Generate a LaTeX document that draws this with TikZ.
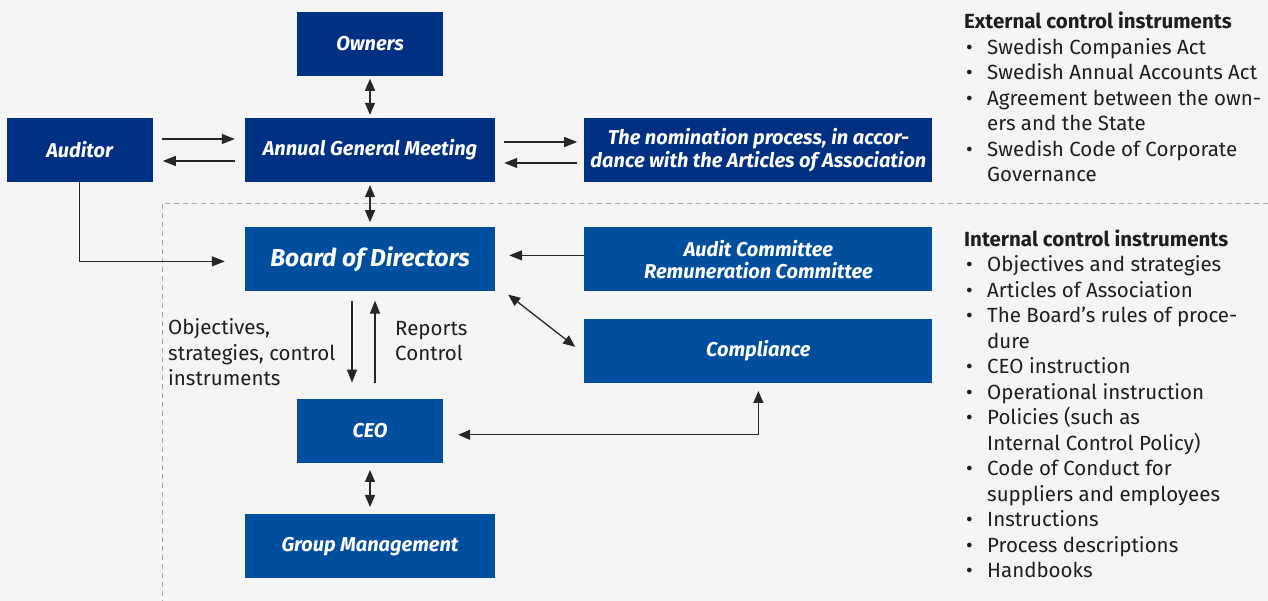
\documentclass[tikz,border=0pt]{standalone}
\usepackage{fontspec}
\setmainfont{Fira Sans}
\usetikzlibrary{arrows.meta,positioning,calc}
\definecolor{extblue}{HTML}{003082}
\definecolor{intblue}{HTML}{004F9F}
\definecolor{bggray}{HTML}{F5F5F5}
\definecolor{dashgray}{HTML}{A8A8A8}
\definecolor{txtgray}{HTML}{1E1E1E}

\newcommand{\bitem}[1]{\hspace*{2pt}\makebox[21pt][l]{\textbullet}#1}
\newcommand{\bcont}[1]{\hspace*{23pt}#1}

\begin{document}
\begin{tikzpicture}[
    x=1pt, y=1pt,
    box/.style={rectangle, inner sep=0pt, text=white, align=center, font=\fontsize{20}{22.5}\selectfont\bfseries\itshape},
    extbox/.style={box, fill=extblue},
    intbox/.style={box, fill=intblue},
    small/.style={minimum width=146pt, minimum height=64pt},
    mid/.style={minimum width=250pt, minimum height=64pt},
    wide/.style={minimum width=348pt, minimum height=64pt},
    tip/.style={Triangle[length=13pt,width=10pt]},
    arrow/.style={-{Triangle[length=13pt,width=10pt]}, line width=1.3pt, black!85},
    twoway/.style={{Triangle[length=12pt,width=10pt]}-{Triangle[length=12pt,width=10pt]}, line width=1.3pt, black!85},
    lbl/.style={inner sep=0pt, align=left, text=txtgray, font=\fontsize{20.5}{25.5}\selectfont},
    dashline/.style={dashgray, line width=0.9pt, dash pattern=on 5pt off 4pt}
]
\fill[bggray] (0,0) rectangle (1268,601);
\useasboundingbox (0,0) rectangle (1268,601);

% internal area
\draw[dashline] (1268,398) -- (162,398) -- (162,0);

% governing bodies
\node[extbox, mid] (agm) at (370,451) {Annual General Meeting};
\node[extbox, small, above=42pt of agm] (owners) {Owners};
\node[extbox, small, left=92pt of agm] (auditor) {Auditor};
\node[extbox, wide, right=89pt of agm] (nomination) {The nomination process, in accor-\\dance with the Articles of Association};
\node[intbox, mid, below=45pt of agm, font=\fontsize{24.5}{26}\selectfont\bfseries\itshape] (board) {Board of Directors};
\node[intbox, wide, right=89pt of board] (committees) {Audit Committee\\Remuneration Committee};
\node[intbox, wide, below=27pt of committees] (compliance) {Compliance};
\node[intbox, small, below=107pt of board] (ceo) {CEO};
\node[intbox, mid, below=51pt of ceo] (groupmgmt) {Group Management};

% connectors
\draw[twoway] ([yshift=-3pt]owners.south) -- ([yshift=3pt]agm.north);
\draw[twoway] ([yshift=-3pt]agm.south) -- ([yshift=5pt]board.north);
\draw[arrow] ([shift={(9pt,11pt)}]auditor.east) -- ([shift={(-10pt,11pt)}]agm.west);
\draw[arrow] ([shift={(-10pt,-11pt)}]agm.west) -- ([shift={(10pt,-11pt)}]auditor.east);
\draw[arrow] ([shift={(9pt,8pt)}]agm.east) -- ([shift={(-7pt,8pt)}]nomination.west);
\draw[arrow] ([shift={(-7pt,-13pt)}]nomination.west) -- ([shift={(9pt,-13pt)}]agm.east);
\draw[arrow] (auditor.south) |- ([shift={(-20pt,-2pt)}]board.west);
\draw[arrow] ([yshift=4pt]committees.west) -- ([shift={(14pt,4pt)}]board.east);
\draw[twoway] ([shift={(13pt,-3pt)}]board.south east) -- ([shift={(-9pt,4pt)}]compliance.west);
\draw[arrow] ([shift={(-18pt,-9pt)}]board.south) -- ([shift={(-18pt,16pt)}]ceo.north);
\draw[arrow] ([shift={(5pt,16pt)}]ceo.north) -- ([shift={(5pt,-9pt)}]board.south);
\draw[twoway] ([shift={(15pt,-4pt)}]ceo.east) -| ([yshift=-8pt]compliance.south);
\draw[twoway] ([yshift=-7pt]ceo.south) -- ([yshift=7pt]groupmgmt.north);

% flow labels
\node[lbl, anchor=base west] (objectives) at (168,215) {Objectives,\\strategies, control\\instruments};
\node[lbl, anchor=base west] (reports) at (395,240) {Reports\\Control};

% control instruments
\node[lbl, anchor=base west] (external) at (964,419) {\bfseries External control instruments\\
  \bitem{Swedish Companies Act}\\
  \bitem{Swedish Annual Accounts Act}\\
  \bitem{Agreement between the own-}\\
  \bcont{ers and the State}\\
  \bitem{Swedish Code of Corporate}\\
  \bcont{Governance}};
\node[lbl, anchor=base west] (internal) at (964,23) {\bfseries Internal control instruments\\
  \bitem{Objectives and strategies}\\
  \bitem{Articles of Association}\\
  \bitem{The Board’s rules of proce-}\\
  \bcont{dure}\\
  \bitem{CEO instruction}\\
  \bitem{Operational instruction}\\
  \bitem{Policies (such as}\\
  \bcont{Internal Control Policy)}\\
  \bitem{Code of Conduct for}\\
  \bcont{suppliers and employees}\\
  \bitem{Instructions}\\
  \bitem{Process descriptions}\\
  \bitem{Handbooks}};
\end{tikzpicture}
\end{document}
